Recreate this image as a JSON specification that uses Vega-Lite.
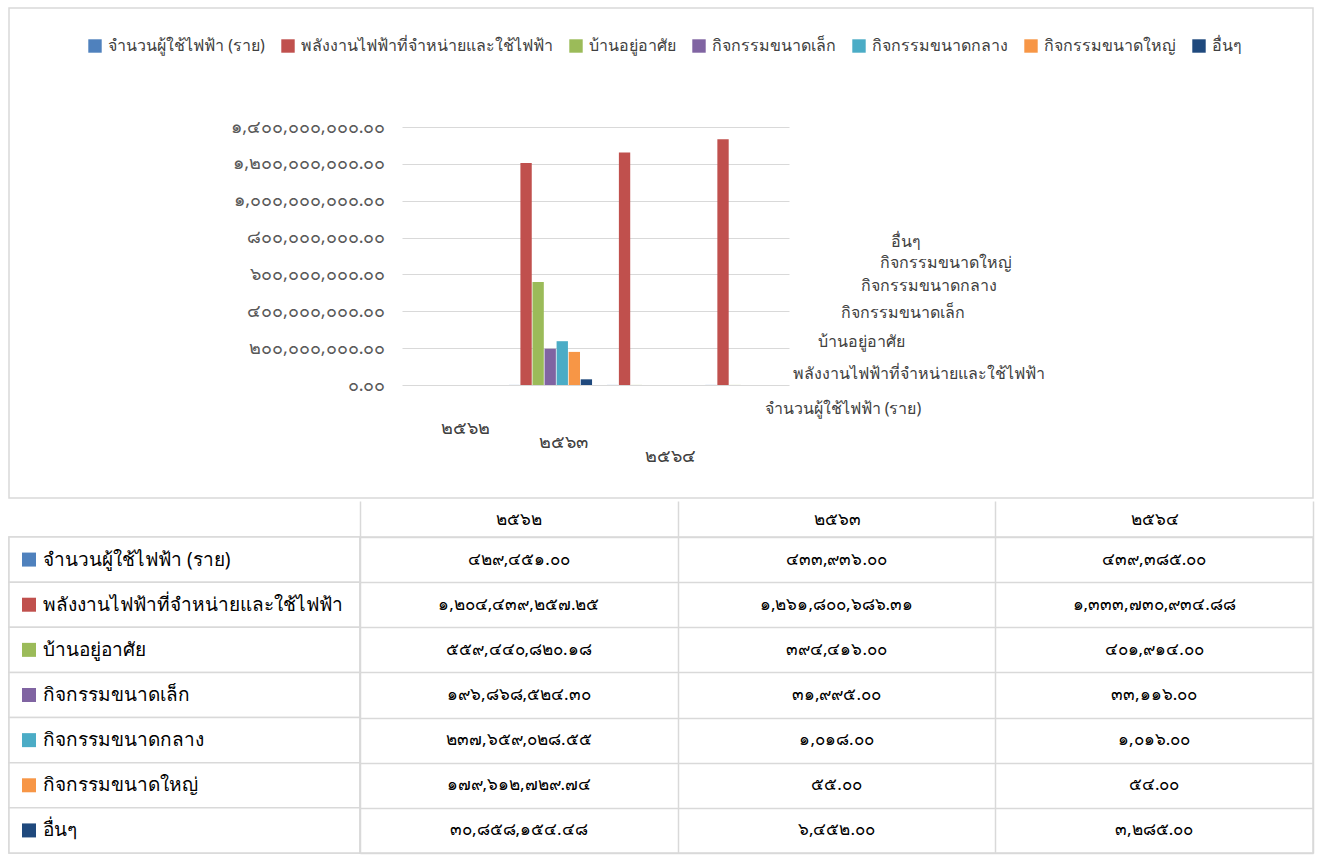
{
  "$schema": "https://vega.github.io/schema/vega-lite/v6.json",
  "background": "white",
  "padding": {"left": 7, "top": 7, "right": 8, "bottom": 10},
  "spacing": 0,
  "config": {
    "font": "Noto Sans",
    "view": {"stroke": "#d9d9d9", "strokeWidth": 1.5},
    "axis": {"labelFont": "Noto Sans"},
    "legend": {"labelFont": "Noto Sans"}
  },
  "datasets": {
    "cells": [
      {"series": "จำนวนผู้ใช้ไฟฟ้า (ราย)", "year": "๒๕๖๒", "value": 429451.00, "text": "๔๒๙,๔๕๑.๐๐"},
      {"series": "จำนวนผู้ใช้ไฟฟ้า (ราย)", "year": "๒๕๖๓", "value": 433936.00, "text": "๔๓๓,๙๓๖.๐๐"},
      {"series": "จำนวนผู้ใช้ไฟฟ้า (ราย)", "year": "๒๕๖๔", "value": 439385.00, "text": "๔๓๙,๓๘๕.๐๐"},
      {"series": "พลังงานไฟฟ้าที่จำหน่ายและใช้ไฟฟ้า", "year": "๒๕๖๒", "value": 1204439257.25, "text": "๑,๒๐๔,๔๓๙,๒๕๗.๒๕"},
      {"series": "พลังงานไฟฟ้าที่จำหน่ายและใช้ไฟฟ้า", "year": "๒๕๖๓", "value": 1261800686.31, "text": "๑,๒๖๑,๘๐๐,๖๘๖.๓๑"},
      {"series": "พลังงานไฟฟ้าที่จำหน่ายและใช้ไฟฟ้า", "year": "๒๕๖๔", "value": 1333730934.88, "text": "๑,๓๓๓,๗๓๐,๙๓๔.๘๘"},
      {"series": "บ้านอยู่อาศัย", "year": "๒๕๖๒", "value": 559440820.18, "text": "๕๕๙,๔๔๐,๘๒๐.๑๘"},
      {"series": "บ้านอยู่อาศัย", "year": "๒๕๖๓", "value": 394416.00, "text": "๓๙๔,๔๑๖.๐๐"},
      {"series": "บ้านอยู่อาศัย", "year": "๒๕๖๔", "value": 401914.00, "text": "๔๐๑,๙๑๔.๐๐"},
      {"series": "กิจกรรมขนาดเล็ก", "year": "๒๕๖๒", "value": 196868524.30, "text": "๑๙๖,๘๖๘,๕๒๔.๓๐"},
      {"series": "กิจกรรมขนาดเล็ก", "year": "๒๕๖๓", "value": 31995.00, "text": "๓๑,๙๙๕.๐๐"},
      {"series": "กิจกรรมขนาดเล็ก", "year": "๒๕๖๔", "value": 33116.00, "text": "๓๓,๑๑๖.๐๐"},
      {"series": "กิจกรรมขนาดกลาง", "year": "๒๕๖๒", "value": 237659028.55, "text": "๒๓๗,๖๕๙,๐๒๘.๕๕"},
      {"series": "กิจกรรมขนาดกลาง", "year": "๒๕๖๓", "value": 1018.00, "text": "๑,๐๑๘.๐๐"},
      {"series": "กิจกรรมขนาดกลาง", "year": "๒๕๖๔", "value": 1016.00, "text": "๑,๐๑๖.๐๐"},
      {"series": "กิจกรรมขนาดใหญ่", "year": "๒๕๖๒", "value": 179612729.74, "text": "๑๗๙,๖๑๒,๗๒๙.๗๔"},
      {"series": "กิจกรรมขนาดใหญ่", "year": "๒๕๖๓", "value": 55.00, "text": "๕๕.๐๐"},
      {"series": "กิจกรรมขนาดใหญ่", "year": "๒๕๖๔", "value": 54.00, "text": "๕๔.๐๐"},
      {"series": "อื่นๆ", "year": "๒๕๖๒", "value": 30858154.48, "text": "๓๐,๘๕๘,๑๕๔.๔๘"},
      {"series": "อื่นๆ", "year": "๒๕๖๓", "value": 6452.00, "text": "๖,๔๕๒.๐๐"},
      {"series": "อื่นๆ", "year": "๒๕๖๔", "value": 3285.00, "text": "๓,๒๘๕.๐๐"}
    ]
  },
  "vconcat": [
    {
      "width": 1304,
      "height": 490,
      "data": {"name": "cells"},
      "layer": [
        {
          "mark": {"type": "bar"},
          "encoding": {
            "x": {
              "field": "year", "type": "nominal", "sort": null,
              "scale": {"range": [393, 780], "paddingInner": 0.15, "paddingOuter": 0.54, "align": 1},
              "axis": {
                "orient": "bottom", "offset": -90, "title": null, "domain": false, "ticks": false, "grid": false,
                "labelAngle": 0, "labelBaseline": "middle", "labelFontSize": 18, "labelColor": "#404040",
                "labelPadding": {"condition": [
                  {"test": "datum.value === '๒๕๖๒'", "value": 20},
                  {"test": "datum.value === '๒๕๖๓'", "value": 34}
                ], "value": 48},
                "labelOffset": {"condition": [
                  {"test": "datum.value === '๒๕๖๒'", "value": -85},
                  {"test": "datum.value === '๒๕๖๓'", "value": -85}
                ], "value": -77}
              }
            },
            "xOffset": {
              "field": "series", "type": "nominal",
              "sort": ["จำนวนผู้ใช้ไฟฟ้า (ราย)", "พลังงานไฟฟ้าที่จำหน่ายและใช้ไฟฟ้า", "บ้านอยู่อาศัย", "กิจกรรมขนาดเล็ก", "กิจกรรมขนาดกลาง", "กิจกรรมขนาดใหญ่", "อื่นๆ"],
              "scale": {"paddingInner": 0.06}
            },
            "y": {
              "field": "value", "type": "quantitative",
              "scale": {"domain": [0, 1400000000], "range": [377, 119], "nice": false},
              "axis": {
                "orient": "left", "offset": -380, "title": null, "domain": false, "ticks": false,
                "values": [0, 200000000, 400000000, 600000000, 800000000, 1000000000, 1200000000, 1400000000],
                "labelPadding": 4, "labelFontSize": 18, "labelColor": "#595959",
                "grid": true, "gridColor": "#d9d9d9",
                "labelExpr": "replace(replace(replace(replace(replace(replace(replace(replace(replace(replace(format(datum.value, ',.2f'), regexp('0','g'), '๐'), regexp('1','g'), '๑'), regexp('2','g'), '๒'), regexp('3','g'), '๓'), regexp('4','g'), '๔'), regexp('5','g'), '๕'), regexp('6','g'), '๖'), regexp('7','g'), '๗'), regexp('8','g'), '๘'), regexp('9','g'), '๙')"
              }
            },
            "color": {
              "field": "series", "type": "nominal",
              "scale": {
                "domain": ["จำนวนผู้ใช้ไฟฟ้า (ราย)", "พลังงานไฟฟ้าที่จำหน่ายและใช้ไฟฟ้า", "บ้านอยู่อาศัย", "กิจกรรมขนาดเล็ก", "กิจกรรมขนาดกลาง", "กิจกรรมขนาดใหญ่", "อื่นๆ"],
                "range": ["#4F81BD", "#C0504D", "#9BBB59", "#8064A2", "#4BACC6", "#F79646", "#1F497D"]
              },
              "legend": {
                "orient": "none", "legendX": 78, "legendY": 30, "direction": "horizontal", "columns": 7,
                "title": null, "symbolType": "square", "symbolSize": 180, "symbolStrokeWidth": 0,
                "labelFontSize": 16, "labelColor": "#404040", "columnPadding": 15, "labelOffset": 5, "labelLimit": 400
              }
            }
          }
        },
        {
          "transform": [{"filter": "datum.year === '๒๕๖๒'"}],
          "mark": {"type": "point", "opacity": 0},
          "encoding": {
            "y": {
              "field": "series", "type": "nominal",
              "scale": {"type": "point", "padding": 0, "range": [400, 233],
                "domain": ["จำนวนผู้ใช้ไฟฟ้า (ราย)", "พลังงานไฟฟ้าที่จำหน่ายและใช้ไฟฟ้า", "บ้านอยู่อาศัย", "กิจกรรมขนาดเล็ก", "กิจกรรมขนาดกลาง", "กิจกรรมขนาดใหญ่", "อื่นๆ"]},
              "axis": {
                "orient": "right", "offset": -549, "title": null, "domain": false, "ticks": false, "grid": false,
                "labelAlign": "left", "labelFontSize": 16, "labelColor": "#404040", "labelLimit": 400,
                "labelPadding": {"condition": [
                  {"test": "datum.value === 'พลังงานไฟฟ้าที่จำหน่ายและใช้ไฟฟ้า'", "value": 28},
                  {"test": "datum.value === 'บ้านอยู่อาศัย'", "value": 53},
                  {"test": "datum.value === 'กิจกรรมขนาดเล็ก'", "value": 76},
                  {"test": "datum.value === 'กิจกรรมขนาดกลาง'", "value": 96},
                  {"test": "datum.value === 'กิจกรรมขนาดใหญ่'", "value": 115},
                  {"test": "datum.value === 'อื่นๆ'", "value": 126}
                ], "value": 0},
                "labelOffset": {"condition": [
                  {"test": "datum.value === 'พลังงานไฟฟ้าที่จำหน่ายและใช้ไฟฟ้า'", "value": -7},
                  {"test": "datum.value === 'บ้านอยู่อาศัย'", "value": -11},
                  {"test": "datum.value === 'กิจกรรมขนาดเล็ก'", "value": -12},
                  {"test": "datum.value === 'กิจกรรมขนาดกลาง'", "value": -11},
                  {"test": "datum.value === 'กิจกรรมขนาดใหญ่'", "value": -6}
                ], "value": 0}
              }
            }
          }
        }
      ],
      "resolve": {"scale": {"y": "independent"}, "axis": {"y": "independent"}}
    },
    {
      "spacing": 0,
      "bounds": "flush",
      "hconcat": [
        {
          "width": 351,
          "height": 316,
          "data": {"name": "cells"},
          "transform": [{"filter": "datum.year === '๒๕๖๒'"}],
          "encoding": {
            "y": {
              "field": "series", "type": "nominal",
              "sort": ["จำนวนผู้ใช้ไฟฟ้า (ราย)", "พลังงานไฟฟ้าที่จำหน่ายและใช้ไฟฟ้า", "บ้านอยู่อาศัย", "กิจกรรมขนาดเล็ก", "กิจกรรมขนาดกลาง", "กิจกรรมขนาดใหญ่", "อื่นๆ"],
              "scale": {"type": "band", "paddingInner": 0, "paddingOuter": 0},
              "axis": null
            }
          },
          "layer": [
            {
              "mark": {"type": "rect", "fill": "#ffffff", "stroke": "#d9d9d9", "strokeWidth": 1.5}
            },
            {
              "mark": {"type": "square", "size": 196, "opacity": 1},
              "encoding": {
                "x": {"datum": "swatch", "type": "nominal", "scale": {"type": "point", "domain": ["swatch", "name"], "range": [20, 34], "padding": 0}, "axis": null},
                "color": {"field": "series", "type": "nominal", "legend": null}
              }
            },
            {
              "mark": {"type": "text", "align": "left", "baseline": "middle", "fontSize": 19, "color": "#000000"},
              "encoding": {
                "x": {"datum": "name", "type": "nominal"},
                "text": {"field": "series"}
              }
            }
          ]
        },
        {
          "width": 953,
          "height": 316,
          "data": {"name": "cells"},
          "mark": {"type": "text", "fontSize": 17, "color": "#000000"},
          "encoding": {
            "x": {
              "field": "year", "type": "nominal", "sort": null,
              "scale": {"type": "band", "paddingInner": 0, "paddingOuter": 0},
              "axis": {"orient": "top", "title": null, "domain": false, "tickBand": "extent", "ticks": true, "tickSize": 36, "tickColor": "#d9d9d9", "tickWidth": 1.5, "grid": true, "gridColor": "#d9d9d9", "gridWidth": 1.5, "labelAngle": 0, "labelBaseline": "middle", "labelPadding": -18, "labelFontSize": 17, "labelColor": "#000000"}
            },
            "y": {
              "field": "series", "type": "nominal",
              "sort": ["จำนวนผู้ใช้ไฟฟ้า (ราย)", "พลังงานไฟฟ้าที่จำหน่ายและใช้ไฟฟ้า", "บ้านอยู่อาศัย", "กิจกรรมขนาดเล็ก", "กิจกรรมขนาดกลาง", "กิจกรรมขนาดใหญ่", "อื่นๆ"],
              "scale": {"type": "band", "paddingInner": 0, "paddingOuter": 0},
              "axis": {"title": null, "labels": false, "ticks": false, "domain": false, "grid": true, "tickBand": "extent", "gridColor": "#d9d9d9", "gridWidth": 1.5}
            },
            "text": {"field": "text"}
          }
        }
      ]
    }
  ]
}
